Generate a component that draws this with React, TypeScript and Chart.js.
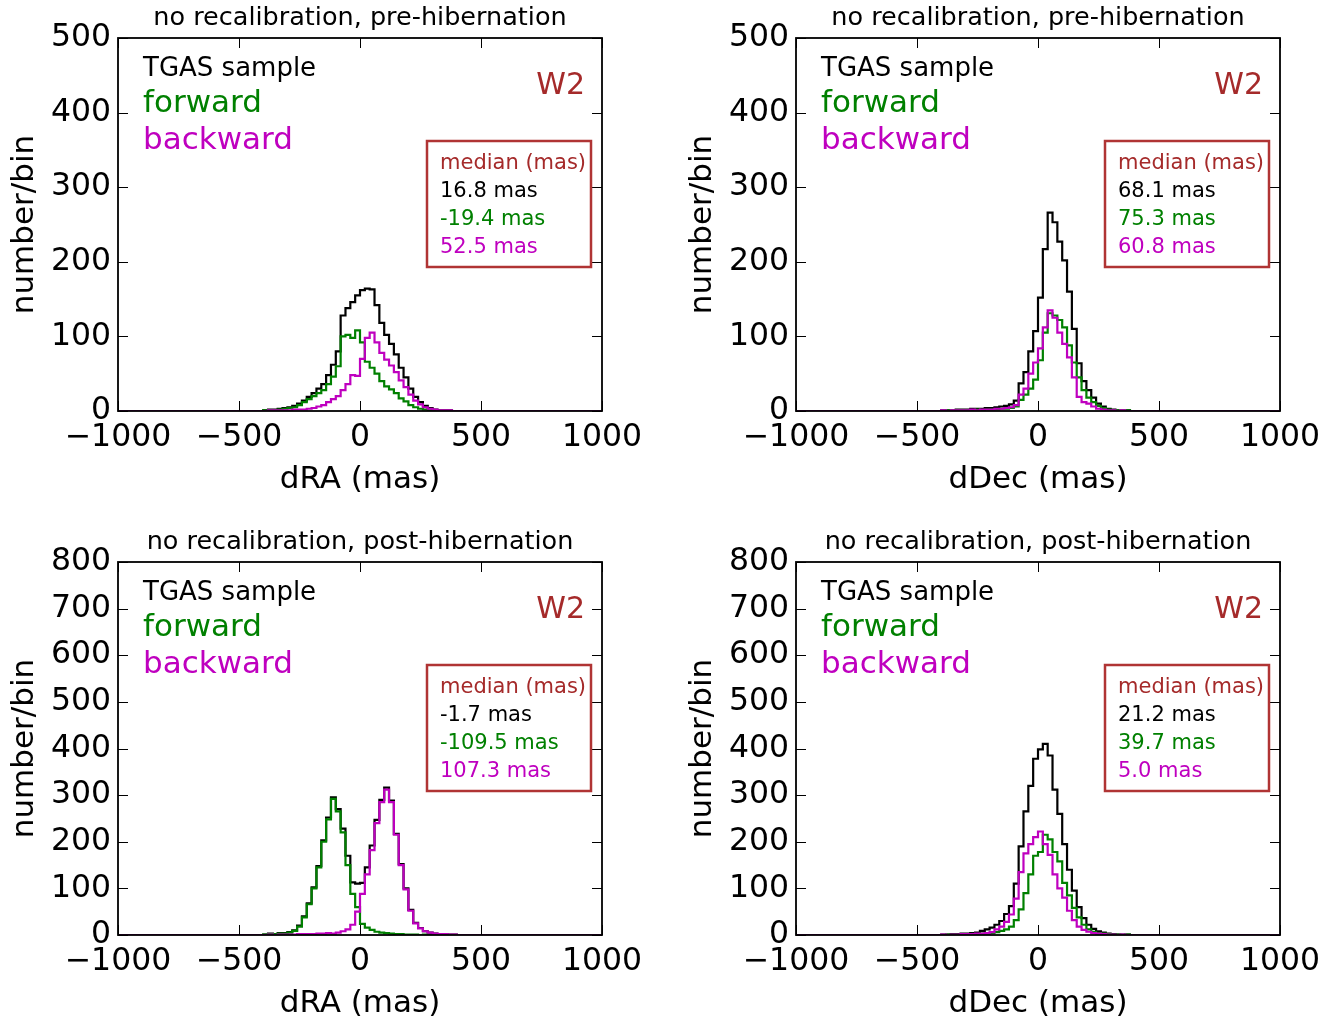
import React, { useEffect, useRef } from 'react';
import { Chart, registerables } from 'chart.js';
Chart.register(...registerables);

// Histogram bins: 20 mas wide, first bin starts at -400 mas (outside: empty)
const BIN_START = -400;
const BIN_WIDTH = 20;
const X_TICKS = [-1000, -500, 0, 500, 1000];

// Pre-hibernation, dRA
const preRA_tgas = [1, 2, 2, 3, 4, 5, 7, 10, 14, 19, 24, 30, 36, 48, 62, 80, 128, 138, 146, 155, 162, 164, 163, 142, 118, 102, 90, 76, 58, 45, 30, 19, 12, 7, 4, 2, 1, 1, 1, 0];
const preRA_fwd = [1, 1, 1, 2, 3, 4, 5, 8, 12, 16, 20, 24, 28, 36, 46, 60, 100, 102, 98, 108, 92, 66, 58, 50, 40, 33, 29, 24, 17, 13, 8, 5, 3, 2, 1, 0, 0, 0, 0, 0];
const preRA_bwd = [0, 1, 1, 1, 1, 1, 2, 2, 2, 3, 4, 6, 8, 12, 16, 20, 28, 36, 48, 47, 70, 98, 105, 92, 78, 69, 61, 52, 41, 32, 22, 14, 9, 5, 3, 2, 1, 1, 1, 0];

// Pre-hibernation, dDec
const preDec_tgas = [1, 1, 1, 2, 2, 2, 3, 3, 3, 4, 4, 5, 6, 7, 9, 14, 37, 52, 80, 107, 152, 217, 266, 253, 227, 202, 160, 110, 64, 40, 28, 18, 10, 6, 3, 2, 1, 1, 1, 0];
const preDec_fwd = [0, 1, 0, 1, 1, 1, 1, 2, 1, 2, 2, 2, 3, 3, 4, 6, 15, 22, 30, 42, 68, 105, 131, 128, 122, 112, 88, 65, 45, 28, 18, 12, 7, 4, 2, 1, 1, 0, 1, 0];
const preDec_bwd = [1, 0, 1, 1, 1, 1, 2, 1, 2, 2, 2, 3, 3, 4, 5, 8, 22, 30, 50, 65, 84, 112, 135, 125, 105, 90, 72, 45, 19, 12, 10, 6, 3, 2, 1, 1, 0, 1, 0, 0];

// Post-hibernation, dRA
const postRA_tgas = [1, 3, 2, 4, 4, 6, 10, 20, 40, 68, 102, 148, 203, 252, 295, 270, 228, 170, 113, 110, 112, 145, 192, 247, 290, 316, 288, 217, 152, 100, 54, 26, 15, 8, 5, 3, 2, 2, 1, 1];
const postRA_fwd = [1, 2, 2, 3, 3, 5, 9, 18, 38, 66, 100, 145, 200, 248, 292, 265, 220, 150, 88, 60, 24, 16, 11, 7, 5, 4, 3, 2, 2, 1, 1, 1, 0, 1, 0, 0, 0, 0, 0, 0];
const postRA_bwd = [0, 1, 0, 1, 1, 1, 1, 2, 2, 2, 2, 3, 3, 4, 3, 5, 8, 12, 22, 50, 88, 130, 182, 240, 285, 312, 285, 215, 150, 98, 52, 25, 14, 8, 5, 3, 2, 2, 1, 1];

// Post-hibernation, dDec
const postDec_tgas = [1, 1, 2, 2, 3, 3, 4, 5, 9, 12, 16, 22, 30, 45, 62, 110, 190, 265, 320, 378, 398, 410, 385, 312, 260, 195, 140, 95, 60, 36, 22, 13, 8, 5, 3, 2, 1, 1, 1, 0];
const postDec_fwd = [0, 1, 1, 1, 1, 1, 2, 2, 3, 3, 4, 6, 9, 12, 18, 32, 55, 90, 130, 170, 178, 215, 205, 178, 158, 112, 85, 58, 38, 22, 12, 7, 4, 3, 2, 1, 1, 0, 1, 0];
const postDec_bwd = [1, 0, 1, 1, 2, 2, 2, 3, 3, 4, 6, 12, 18, 28, 44, 78, 135, 175, 195, 210, 222, 195, 172, 130, 100, 80, 52, 32, 18, 11, 7, 4, 3, 2, 1, 1, 0, 1, 0, 0];

const TITLES = [
  'no recalibration, pre-hibernation',
  'no recalibration, pre-hibernation',
  'no recalibration, post-hibernation',
  'no recalibration, post-hibernation',
];
const X_LABELS = ['dRA (mas)', 'dDec (mas)', 'dRA (mas)', 'dDec (mas)'];
const Y_MAX = [500, 500, 800, 800];
const MEDIANS_TGAS = ['16.8 mas', '68.1 mas', '-1.7 mas', '21.2 mas'];
const MEDIANS_FWD = ['-19.4 mas', '75.3 mas', '-109.5 mas', '39.7 mas'];
const MEDIANS_BWD = ['52.5 mas', '60.8 mas', '107.3 mas', '5.0 mas'];
const SERIES = [
  [preRA_tgas, preRA_fwd, preRA_bwd],
  [preDec_tgas, preDec_fwd, preDec_bwd],
  [postRA_tgas, postRA_fwd, postRA_bwd],
  [postDec_tgas, postDec_fwd, postDec_bwd],
];

const FONT = 'DejaVu Sans';
const BLACK = '#000000';
const GREEN = '#008000';
const MAGENTA = '#bf00bf';
const BROWN = '#a52a2a';
const BOX = '#b03434';

function stepPoints(counts: number[]) {
  const pts: { x: number; y: number }[] = [{ x: -1000, y: 0 }, { x: BIN_START, y: 0 }];
  counts.forEach((c, i) => {
    const a = BIN_START + i * BIN_WIDTH;
    pts.push({ x: a, y: c }, { x: a + BIN_WIDTH, y: c });
  });
  pts.push({ x: BIN_START + counts.length * BIN_WIDTH, y: 0 }, { x: 1000, y: 0 });
  return pts;
}

function fmt(v: number) {
  return v < 0 ? '\u2212' + Math.abs(v) : String(v);
}

// canvas placement for each panel
const PANELS = [
  { left: 0, top: 0, width: 671 },
  { left: 678, top: 0, width: 664 },
  { left: 0, top: 524, width: 671 },
  { left: 678, top: 524, width: 664 },
];
const CANVAS_H = 510;
const PLOT_RIGHT = 602; // in canvas coordinates
const PLOT_TOP = 38;
const PLOT_BOTTOM = 411;
const PLOT_LEFT = 118;

function Panel({ idx }: { idx: number }) {
  const ref = useRef<HTMLCanvasElement | null>(null);
  useEffect(() => {
    const canvas = ref.current;
    if (!canvas) return;
    const [tgas, fwd, bwd] = SERIES[idx];
    const panel = PANELS[idx];

    const framePlugin = {
      id: 'frame' + idx,
      afterDatasetsDraw(chart: any) {
        const { ctx, chartArea: a, scales } = chart;
        ctx.save();
        ctx.strokeStyle = '#000';
        ctx.lineWidth = 1;
        const L = 10;
        for (const t of X_TICKS) {
          const px = Math.round(scales.x.getPixelForValue(t)) + 0.5;
          ctx.beginPath();
          ctx.moveTo(px, a.bottom);
          ctx.lineTo(px, a.bottom - L);
          ctx.moveTo(px, a.top);
          ctx.lineTo(px, a.top + L);
          ctx.stroke();
        }
        for (const t of scales.y.ticks) {
          const py = Math.round(scales.y.getPixelForValue(t.value)) + 0.5;
          ctx.beginPath();
          ctx.moveTo(a.left, py);
          ctx.lineTo(a.left + L, py);
          ctx.moveTo(a.right, py);
          ctx.lineTo(a.right - L, py);
          ctx.stroke();
        }
        ctx.lineWidth = 1.8;
        ctx.strokeRect(a.left, a.top, a.right - a.left, a.bottom - a.top);

        // title
        ctx.textBaseline = 'middle';
        ctx.textAlign = 'center';
        ctx.fillStyle = '#000';
        ctx.font = `25.5px "${FONT}"`;
        ctx.fillText(TITLES[idx], (a.left + a.right) / 2, a.top - 20);

        // legend-like labels
        ctx.textAlign = 'left';
        ctx.font = `26px "${FONT}"`;
        ctx.fillStyle = BLACK;
        ctx.fillText('TGAS sample', a.left + 25, a.top + 31);
        ctx.font = `31px "${FONT}"`;
        ctx.fillStyle = GREEN;
        ctx.fillText('forward', a.left + 25, a.top + 66);
        ctx.fillStyle = MAGENTA;
        ctx.fillText('backward', a.left + 25, a.top + 103);

        ctx.textAlign = 'right';
        ctx.font = `30px "${FONT}"`;
        ctx.fillStyle = BROWN;
        ctx.fillText('W2', a.right - 17, a.top + 48);

        // median box
        ctx.strokeStyle = BOX;
        ctx.lineWidth = 2.5;
        ctx.strokeRect(a.right - 175, a.top + 103, 164, 126);
        ctx.textAlign = 'left';
        ctx.font = `21px "${FONT}"`;
        const tx = a.right - 162;
        ctx.fillStyle = BROWN;
        ctx.fillText('median (mas)', tx, a.top + 126);
        ctx.fillStyle = BLACK;
        ctx.fillText(MEDIANS_TGAS[idx], tx, a.top + 154);
        ctx.fillStyle = GREEN;
        ctx.fillText(MEDIANS_FWD[idx], tx, a.top + 182);
        ctx.fillStyle = MAGENTA;
        ctx.fillText(MEDIANS_BWD[idx], tx, a.top + 210);
        ctx.restore();
      },
    };

    const chart = new Chart(canvas, {
      type: 'line',
      data: {
        datasets: [
          { label: 'TGAS sample', data: stepPoints(tgas), borderColor: BLACK, order: 3 },
          { label: 'forward', data: stepPoints(fwd), borderColor: GREEN, order: 2 },
          { label: 'backward', data: stepPoints(bwd), borderColor: MAGENTA, order: 1 },
        ] as any,
      },
      options: {
        animation: false,
        responsive: false,
        devicePixelRatio: 1,
        layout: { padding: { top: PLOT_TOP, right: panel.width - PLOT_RIGHT, left: 0, bottom: 0 } },
        elements: {
          point: { radius: 0 },
          line: { tension: 0, borderWidth: 2.2, borderJoinStyle: 'miter', fill: false },
        },
        plugins: {
          legend: { display: false },
          tooltip: { enabled: false },
          title: { display: false },
        },
        scales: {
          x: {
            type: 'linear',
            min: -1000,
            max: 1000,
            afterBuildTicks: (s: any) => {
              s.ticks = X_TICKS.map((v) => ({ value: v }));
            },
            afterFit: (s: any) => {
              s.height = CANVAS_H - PLOT_BOTTOM;
            },
            grid: { display: false, drawTicks: false },
            border: { display: false },
            ticks: {
              font: { family: FONT, size: 31.5 },
              color: '#000',
              padding: 8,
              maxRotation: 0,
              autoSkip: false,
              callback: (v: any) => fmt(Number(v)),
            },
            title: {
              display: true,
              text: X_LABELS[idx],
              font: { family: FONT, size: 31 },
              color: '#000',
              padding: { top: 0, bottom: 11 },
            },
          },
          y: {
            type: 'linear',
            min: 0,
            max: Y_MAX[idx],
            afterFit: (s: any) => {
              s.width = PLOT_LEFT;
            },
            grid: { display: false, drawTicks: false },
            border: { display: false },
            ticks: {
              stepSize: 100,
              font: { family: FONT, size: 31.5 },
              color: '#000',
              padding: 7,
              callback: (v: any) => fmt(Number(v)),
            },
            title: {
              display: true,
              text: 'number/bin',
              font: { family: FONT, size: 31 },
              color: '#000',
              padding: { top: 6, bottom: 0 },
            },
          },
        },
      } as any,
      plugins: [framePlugin],
    });
    return () => chart.destroy();
  }, [idx]);
  const p = PANELS[idx];
  return (
    <canvas
      ref={ref}
      width={p.width}
      height={CANVAS_H}
      style={{ position: 'absolute', left: p.left, top: p.top, width: p.width, height: CANVAS_H }}
    />
  );
}

export default function App() {
  useEffect(() => {
    document.body.style.margin = '0';
    document.body.style.background = '#fff';
  }, []);
  return (
    <div style={{ position: 'relative', width: 1342, height: 1021, background: '#fff', overflow: 'hidden' }}>
      {[0, 1, 2, 3].map((i) => (
        <Panel key={i} idx={i} />
      ))}
    </div>
  );
}
